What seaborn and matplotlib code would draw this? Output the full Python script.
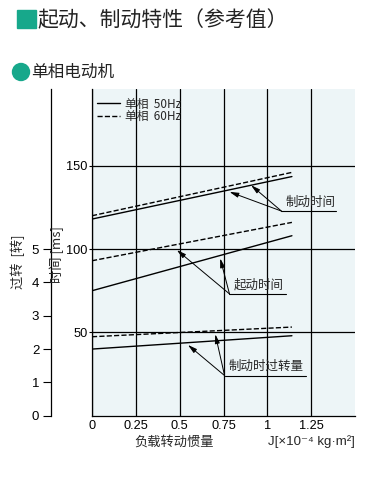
import pandas as pd
import matplotlib
matplotlib.use("Agg")
import matplotlib.pyplot as plt
import matplotlib.patches as mpatches
from matplotlib.lines import Line2D
import seaborn as sns

# values
j_load = [0, 1.14]                 # load inertia J [x10^-4 kg.m2]
brake_time_50 = [118, 143.5]       # braking time [ms], single phase 50Hz
brake_time_60 = [120, 146]         # braking time [ms], 60Hz
start_time_50 = [75, 108]          # starting time [ms], 50Hz
start_time_60 = [93, 116]          # starting time [ms], 60Hz
overrun_50 = [2.0, 2.4]            # overrun when braking [turns], 50Hz
overrun_60 = [2.37, 2.66]          # overrun when braking [turns], 60Hz

x_ticks = [0, 0.25, 0.5, 0.75, 1, 1.25]
x_ticklabels = ["0", "0.25", "0.5", "0.75", "1", "1.25"]
ms_ticks = [50, 100, 150]
turn_ticks = [0, 1, 2, 3, 4, 5]

sns.set_theme(style="white")
plt.rcParams['font.family'] = ['Liberation Sans', 'Noto Sans CJK SC', 'DejaVu Sans']
cjk = ['Noto Sans CJK SC', 'DejaVu Sans']

df_time = pd.DataFrame({
    "J": j_load * 4,
    "ms": brake_time_50 + brake_time_60 + start_time_50 + start_time_60,
    "curve": ["brake50"] * 2 + ["brake60"] * 2 + ["start50"] * 2 + ["start60"] * 2,
})
df_turn = pd.DataFrame({
    "J": j_load * 2,
    "turns": overrun_50 + overrun_60,
    "curve": ["over50"] * 2 + ["over60"] * 2,
})

fig = plt.figure(figsize=(3.71, 4.92), dpi=100)
ax = fig.add_axes([0.248, 0.155, 0.709, 0.664])
ax.set_facecolor("#edf5f7")

for name, ls in [("brake50", "-"), ("brake60", "--"), ("start50", "-"), ("start60", "--")]:
    sns.lineplot(data=df_time[df_time.curve == name], x="J", y="ms", ax=ax,
                 color="black", lw=1.0, linestyle=ls)

ax.set_xlim(0, 1.5)
ax.set_ylim(0, 196)
ax.set_xticks(x_ticks)
ax.set_xticklabels(x_ticklabels)
ax.set_yticks(ms_ticks)
ax.set_xlabel("")
ax.set_ylabel("")
ax.grid(True, color="black", lw=0.9)
ax.tick_params(axis="both", labelsize=9.2, colors="black", length=2, width=0.8, pad=1)
ax.tick_params(axis="x", length=0, pad=3)
for s in ["top", "right"]:
    ax.spines[s].set_visible(False)
for s in ["left", "bottom"]:
    ax.spines[s].set_color("black")
    ax.spines[s].set_linewidth(0.9)

# overrun axis (turns) on the far left
ax_t = ax.twinx()
for name, ls in [("over50", "-"), ("over60", "--")]:
    sns.lineplot(data=df_turn[df_turn.curve == name], x="J", y="turns", ax=ax_t,
                 color="black", lw=1.0, linestyle=ls)
ax_t.set_ylim(0, 196 / 20)
ax_t.set_yticks(turn_ticks)
ax_t.set_ylabel("")
ax_t.yaxis.set_ticks_position("left")
ax_t.spines["left"].set_position(("outward", 29.5))
ax_t.spines["left"].set_color("black")
ax_t.spines["left"].set_linewidth(0.9)
for s in ["top", "right", "bottom"]:
    ax_t.spines[s].set_visible(False)
ax_t.tick_params(axis="y", labelsize=9.5, colors="black", length=5.5, width=0.8, pad=3,
                 left=True, labelleft=True, right=False, labelright=False)

# legend
handles = [Line2D([], [], color="black", lw=1.0, linestyle="-"),
           Line2D([], [], color="black", lw=1.0, linestyle="--")]
ax.legend(handles, ["单相  50Hz", "单相  60Hz"], loc="upper left", frameon=False,
          bbox_to_anchor=(0.0, 0.99), handlelength=1.9, handletextpad=0.45,
          labelspacing=-0.03, borderaxespad=0.15, borderpad=0.3,
          prop={"family": cjk, "size": 8.5})

# callouts
arrow = dict(arrowstyle="-|>,head_length=0.45,head_width=0.12", color="black", lw=0.7,
             shrinkA=0, shrinkB=0)
callouts = [
    ("制动时间", (1.08, 122.8), 1.392, [(0.784, 134.3), (0.907, 138.3)]),
    ("起动时间", (0.784, 73.1), 1.108, [(0.484, 99.4), (0.731, 94.4)]),
    ("制动时过转量", (0.756, 24.1), 1.222, [(0.547, 42.5), (0.703, 48.9)]),
]
for label, origin, x_end, targets in callouts:
    for tgt in targets:
        ax.annotate("", xy=tgt, xytext=origin, arrowprops=arrow)
    ax.plot([origin[0], x_end], [origin[1], origin[1]], color="black", lw=0.8)
    ax.text(origin[0] + 0.025, origin[1] + 1.5, label, fontsize=9, family=cjk,
            ha="left", va="bottom")

# axis labels
fig.text(0.469, 0.102, "负载转动惯量", fontsize=9.5, family=cjk, ha="center", va="center")
fig.text(0.957, 0.102, "J[×10⁻⁴ kg·m²]", fontsize=9.5, ha="right", va="center")
fig.text(0.153, 0.483, "时间 [ms]", fontsize=9.5, family=cjk, rotation=90,
         ha="center", va="center")
fig.text(0.049, 0.468, "过转  [转]", fontsize=9.5, family=cjk, rotation=90,
         ha="center", va="center")

# headings
fig.patches.append(mpatches.Rectangle((17 / 371, 1 - 28 / 492), 19 / 371, 18 / 492,
                                      transform=fig.transFigure, color="#17a88b"))
fig.text(0.102, 0.959, "起动、制动特性（参考值）", fontsize=15, family=cjk,
         ha="left", va="center", color="#222222")
fig.patches.append(mpatches.Ellipse((21 / 371, 1 - 72 / 492), 17 / 371, 17 / 492,
                                    transform=fig.transFigure, color="#17a88b"))
fig.text(0.084, 0.854, "单相电动机", fontsize=12, family=cjk, ha="left", va="center",
         color="#222222")

fig.savefig("out.png", dpi=100, facecolor="white")
